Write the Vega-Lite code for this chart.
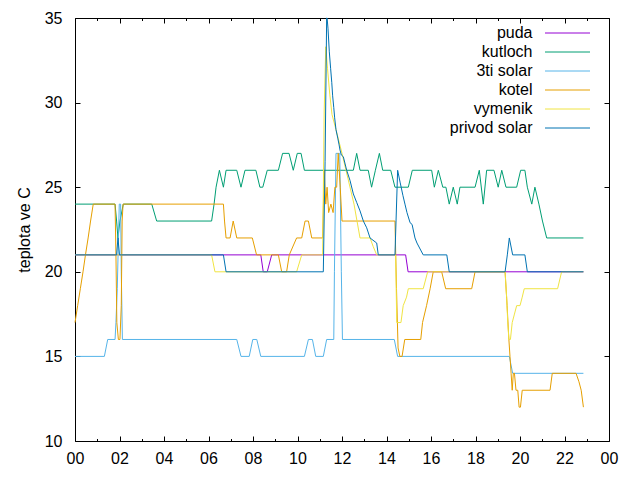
{
  "$schema": "https://vega.github.io/schema/vega-lite/v6.json",
  "autosize": "none",
  "width": 534,
  "height": 423,
  "padding": {"left": 75, "top": 18, "right": 31, "bottom": 39},
  "background": "white",
  "config": {
    "view": {"stroke": "black", "strokeWidth": 1},
    "font": "Liberation Sans",
    "axis": {"grid": false, "domain": false, "tickColor": "black", "labelColor": "black", "labelFont": "Liberation Sans", "labelFontSize": 16, "titleFont": "Liberation Sans", "titleFontSize": 16, "titleFontWeight": "normal", "titleColor": "black", "labelFlush": false},
    "legend": {"labelFont": "Liberation Sans", "labelFontSize": 16, "labelColor": "black"}
  },
  "data": {"values": [
    {"s":"puda","h":0,"t":21},{"s":"puda","h":8.35,"t":21},{"s":"puda","h":8.46,"t":20},{"s":"puda","h":8.64,"t":20},{"s":"puda","h":8.84,"t":21},{"s":"puda","h":14.86,"t":21},{"s":"puda","h":14.97,"t":20},{"s":"puda","h":22.85,"t":20},

    {"s":"kutloch","h":0,"t":24},{"s":"kutloch","h":1.8,"t":24},{"s":"kutloch","h":1.87,"t":23},{"s":"kutloch","h":1.93,"t":22},{"s":"kutloch","h":2.02,"t":23},{"s":"kutloch","h":2.17,"t":24},{"s":"kutloch","h":3.45,"t":24},{"s":"kutloch","h":3.67,"t":23},{"s":"kutloch","h":6.14,"t":23},{"s":"kutloch","h":6.25,"t":24},{"s":"kutloch","h":6.34,"t":25},{"s":"kutloch","h":6.49,"t":26},{"s":"kutloch","h":6.67,"t":25},{"s":"kutloch","h":6.79,"t":26},{"s":"kutloch","h":7.27,"t":26},{"s":"kutloch","h":7.46,"t":25},{"s":"kutloch","h":7.64,"t":26},{"s":"kutloch","h":8.13,"t":26},{"s":"kutloch","h":8.31,"t":25},{"s":"kutloch","h":8.44,"t":25},{"s":"kutloch","h":8.64,"t":26},{"s":"kutloch","h":9.14,"t":26},{"s":"kutloch","h":9.33,"t":27},{"s":"kutloch","h":9.62,"t":27},{"s":"kutloch","h":9.81,"t":26},{"s":"kutloch","h":9.99,"t":27},{"s":"kutloch","h":10.16,"t":27},{"s":"kutloch","h":10.31,"t":26},{"s":"kutloch","h":12.51,"t":26},{"s":"kutloch","h":12.66,"t":27},{"s":"kutloch","h":12.81,"t":26},{"s":"kutloch","h":13.18,"t":26},{"s":"kutloch","h":13.33,"t":25},{"s":"kutloch","h":13.5,"t":26},{"s":"kutloch","h":13.68,"t":27},{"s":"kutloch","h":13.83,"t":26},{"s":"kutloch","h":14.19,"t":26},{"s":"kutloch","h":14.38,"t":25},{"s":"kutloch","h":14.98,"t":25},{"s":"kutloch","h":15.16,"t":26},{"s":"kutloch","h":16.03,"t":26},{"s":"kutloch","h":16.15,"t":25},{"s":"kutloch","h":16.33,"t":26},{"s":"kutloch","h":16.53,"t":25},{"s":"kutloch","h":16.67,"t":25},{"s":"kutloch","h":16.82,"t":24},{"s":"kutloch","h":17.0,"t":25},{"s":"kutloch","h":17.18,"t":24},{"s":"kutloch","h":17.3,"t":25},{"s":"kutloch","h":17.98,"t":25},{"s":"kutloch","h":18.17,"t":26},{"s":"kutloch","h":18.35,"t":24},{"s":"kutloch","h":18.5,"t":26},{"s":"kutloch","h":18.83,"t":26},{"s":"kutloch","h":19.02,"t":25},{"s":"kutloch","h":19.18,"t":26},{"s":"kutloch","h":19.37,"t":25},{"s":"kutloch","h":19.85,"t":25},{"s":"kutloch","h":20.03,"t":26},{"s":"kutloch","h":20.22,"t":26},{"s":"kutloch","h":20.33,"t":25},{"s":"kutloch","h":20.53,"t":24},{"s":"kutloch","h":20.67,"t":25},{"s":"kutloch","h":20.85,"t":24},{"s":"kutloch","h":21.01,"t":23},{"s":"kutloch","h":21.2,"t":22},{"s":"kutloch","h":22.85,"t":22},

    {"s":"3ti solar","h":0,"t":15},{"s":"3ti solar","h":1.32,"t":15},{"s":"3ti solar","h":1.47,"t":16},{"s":"3ti solar","h":1.8,"t":16},{"s":"3ti solar","h":1.84,"t":17},{"s":"3ti solar","h":1.9,"t":19},{"s":"3ti solar","h":1.99,"t":24},{"s":"3ti solar","h":2.05,"t":24},{"s":"3ti solar","h":2.08,"t":20},{"s":"3ti solar","h":2.13,"t":16},{"s":"3ti solar","h":7.27,"t":16},{"s":"3ti solar","h":7.46,"t":15},{"s":"3ti solar","h":7.83,"t":15},{"s":"3ti solar","h":7.99,"t":16},{"s":"3ti solar","h":8.17,"t":16},{"s":"3ti solar","h":8.35,"t":15},{"s":"3ti solar","h":10.31,"t":15},{"s":"3ti solar","h":10.49,"t":16},{"s":"3ti solar","h":10.67,"t":16},{"s":"3ti solar","h":10.82,"t":15},{"s":"3ti solar","h":11.16,"t":15},{"s":"3ti solar","h":11.31,"t":16},{"s":"3ti solar","h":11.63,"t":16},{"s":"3ti solar","h":11.66,"t":20},{"s":"3ti solar","h":11.73,"t":27},{"s":"3ti solar","h":11.9,"t":27},{"s":"3ti solar","h":11.97,"t":20},{"s":"3ti solar","h":12.02,"t":16},{"s":"3ti solar","h":14.35,"t":16},{"s":"3ti solar","h":14.5,"t":15},{"s":"3ti solar","h":19.52,"t":15},{"s":"3ti solar","h":19.67,"t":14},{"s":"3ti solar","h":22.85,"t":14},

    {"s":"kotel","h":0,"t":17},{"s":"kotel","h":0.12,"t":18},{"s":"kotel","h":0.24,"t":19},{"s":"kotel","h":0.36,"t":20},{"s":"kotel","h":0.47,"t":21},{"s":"kotel","h":0.59,"t":22},{"s":"kotel","h":0.7,"t":23},{"s":"kotel","h":0.82,"t":24},{"s":"kotel","h":1.8,"t":24},{"s":"kotel","h":1.84,"t":21},{"s":"kotel","h":1.88,"t":17},{"s":"kotel","h":1.95,"t":16},{"s":"kotel","h":2.02,"t":16},{"s":"kotel","h":2.08,"t":18},{"s":"kotel","h":2.12,"t":23},{"s":"kotel","h":2.16,"t":24},{"s":"kotel","h":6.67,"t":24},{"s":"kotel","h":6.72,"t":23},{"s":"kotel","h":6.79,"t":22},{"s":"kotel","h":6.97,"t":22},{"s":"kotel","h":7.11,"t":23},{"s":"kotel","h":7.27,"t":22},{"s":"kotel","h":7.97,"t":22},{"s":"kotel","h":8.16,"t":21},{"s":"kotel","h":9.14,"t":21},{"s":"kotel","h":9.29,"t":20},{"s":"kotel","h":9.51,"t":20},{"s":"kotel","h":9.63,"t":21},{"s":"kotel","h":9.96,"t":22},{"s":"kotel","h":10.19,"t":22},{"s":"kotel","h":10.34,"t":23},{"s":"kotel","h":10.49,"t":23},{"s":"kotel","h":10.64,"t":22},{"s":"kotel","h":11.13,"t":22},{"s":"kotel","h":11.2,"t":26},{"s":"kotel","h":11.27,"t":24},{"s":"kotel","h":11.33,"t":25},{"s":"kotel","h":11.4,"t":23.5},{"s":"kotel","h":11.5,"t":24},{"s":"kotel","h":11.6,"t":23.5},{"s":"kotel","h":11.68,"t":25},{"s":"kotel","h":11.76,"t":25},{"s":"kotel","h":11.83,"t":27},{"s":"kotel","h":11.92,"t":25},{"s":"kotel","h":12.0,"t":23},{"s":"kotel","h":14.38,"t":23},{"s":"kotel","h":14.45,"t":19},{"s":"kotel","h":14.52,"t":15.5},{"s":"kotel","h":14.6,"t":15},{"s":"kotel","h":14.7,"t":15},{"s":"kotel","h":14.82,"t":16},{"s":"kotel","h":15.54,"t":16},{"s":"kotel","h":15.62,"t":17},{"s":"kotel","h":15.8,"t":18},{"s":"kotel","h":15.96,"t":19},{"s":"kotel","h":16.1,"t":20},{"s":"kotel","h":16.48,"t":20},{"s":"kotel","h":16.66,"t":19},{"s":"kotel","h":17.83,"t":19},{"s":"kotel","h":17.98,"t":20},{"s":"kotel","h":19.33,"t":20},{"s":"kotel","h":19.42,"t":18},{"s":"kotel","h":19.5,"t":16},{"s":"kotel","h":19.55,"t":15},{"s":"kotel","h":19.6,"t":14},{"s":"kotel","h":19.65,"t":13},{"s":"kotel","h":19.7,"t":14},{"s":"kotel","h":19.75,"t":14},{"s":"kotel","h":19.82,"t":13},{"s":"kotel","h":19.9,"t":13},{"s":"kotel","h":19.96,"t":12},{"s":"kotel","h":20.02,"t":12},{"s":"kotel","h":20.1,"t":13},{"s":"kotel","h":21.35,"t":13},{"s":"kotel","h":21.45,"t":14},{"s":"kotel","h":22.52,"t":14},{"s":"kotel","h":22.65,"t":13.5},{"s":"kotel","h":22.75,"t":13},{"s":"kotel","h":22.85,"t":12},

    {"s":"vymenik","h":0,"t":21},{"s":"vymenik","h":6.14,"t":21},{"s":"vymenik","h":6.29,"t":20},{"s":"vymenik","h":9.96,"t":20},{"s":"vymenik","h":10.19,"t":21},{"s":"vymenik","h":11.13,"t":21},{"s":"vymenik","h":11.2,"t":29.5},{"s":"vymenik","h":11.27,"t":33.3},{"s":"vymenik","h":11.35,"t":32},{"s":"vymenik","h":11.45,"t":30.5},{"s":"vymenik","h":11.55,"t":29.3},{"s":"vymenik","h":11.73,"t":28.4},{"s":"vymenik","h":12.0,"t":27},{"s":"vymenik","h":12.27,"t":25.5},{"s":"vymenik","h":12.54,"t":24},{"s":"vymenik","h":12.81,"t":22},{"s":"vymenik","h":13.26,"t":22},{"s":"vymenik","h":13.4,"t":21.5},{"s":"vymenik","h":13.56,"t":21},{"s":"vymenik","h":14.41,"t":21},{"s":"vymenik","h":14.46,"t":17},{"s":"vymenik","h":14.65,"t":17},{"s":"vymenik","h":14.75,"t":18},{"s":"vymenik","h":14.9,"t":18.5},{"s":"vymenik","h":14.98,"t":19},{"s":"vymenik","h":15.65,"t":19},{"s":"vymenik","h":15.85,"t":20},{"s":"vymenik","h":19.33,"t":20},{"s":"vymenik","h":19.4,"t":18.5},{"s":"vymenik","h":19.45,"t":17},{"s":"vymenik","h":19.5,"t":16},{"s":"vymenik","h":19.57,"t":16},{"s":"vymenik","h":19.65,"t":17},{"s":"vymenik","h":19.75,"t":17.5},{"s":"vymenik","h":19.85,"t":18},{"s":"vymenik","h":20.0,"t":18},{"s":"vymenik","h":20.1,"t":18.5},{"s":"vymenik","h":20.19,"t":19},{"s":"vymenik","h":21.69,"t":19},{"s":"vymenik","h":21.87,"t":20},{"s":"vymenik","h":22.85,"t":20},

    {"s":"privod solar","h":0,"t":21},{"s":"privod solar","h":1.87,"t":21},{"s":"privod solar","h":1.93,"t":22},{"s":"privod solar","h":2.0,"t":21},{"s":"privod solar","h":6.67,"t":21},{"s":"privod solar","h":6.79,"t":20},{"s":"privod solar","h":11.16,"t":20},{"s":"privod solar","h":11.24,"t":26.5},{"s":"privod solar","h":11.31,"t":35},{"s":"privod solar","h":11.33,"t":35},{"s":"privod solar","h":11.37,"t":34.4},{"s":"privod solar","h":11.43,"t":33},{"s":"privod solar","h":11.49,"t":32},{"s":"privod solar","h":11.54,"t":31.2},{"s":"privod solar","h":11.58,"t":30.4},{"s":"privod solar","h":11.63,"t":29.7},{"s":"privod solar","h":11.67,"t":29.1},{"s":"privod solar","h":11.73,"t":28.4},{"s":"privod solar","h":11.81,"t":27.9},{"s":"privod solar","h":11.87,"t":27.5},{"s":"privod solar","h":11.91,"t":27.2},{"s":"privod solar","h":11.97,"t":26.9},{"s":"privod solar","h":12.06,"t":26.8},{"s":"privod solar","h":12.21,"t":26},{"s":"privod solar","h":12.36,"t":25.4},{"s":"privod solar","h":12.51,"t":24.6},{"s":"privod solar","h":12.66,"t":24.1},{"s":"privod solar","h":12.81,"t":23.6},{"s":"privod solar","h":12.96,"t":23},{"s":"privod solar","h":13.11,"t":22.6},{"s":"privod solar","h":13.26,"t":22},{"s":"privod solar","h":13.56,"t":21.7},{"s":"privod solar","h":13.63,"t":21},{"s":"privod solar","h":14.38,"t":21},{"s":"privod solar","h":14.5,"t":26},{"s":"privod solar","h":14.61,"t":25.3},{"s":"privod solar","h":14.74,"t":24.5},{"s":"privod solar","h":14.83,"t":24},{"s":"privod solar","h":14.92,"t":23.5},{"s":"privod solar","h":15.06,"t":22.9},{"s":"privod solar","h":15.15,"t":22.8},{"s":"privod solar","h":15.28,"t":22},{"s":"privod solar","h":15.37,"t":21.7},{"s":"privod solar","h":15.65,"t":21},{"s":"privod solar","h":16.71,"t":21},{"s":"privod solar","h":16.82,"t":20},{"s":"privod solar","h":19.33,"t":20},{"s":"privod solar","h":19.43,"t":21},{"s":"privod solar","h":19.52,"t":22},{"s":"privod solar","h":19.67,"t":21},{"s":"privod solar","h":20.22,"t":21},{"s":"privod solar","h":20.33,"t":20},{"s":"privod solar","h":22.85,"t":20}
  ]},
  "resolve": {"axis": {"x": "independent", "y": "independent"}},
  "layer": [
    {
      "mark": {"type": "line", "strokeWidth": 1, "interpolate": "linear"},
      "encoding": {
        "x": {"field": "h", "type": "quantitative", "scale": {"domain": [0, 24], "nice": false, "zero": false},
          "axis": {"orient": "bottom", "title": null, "values": [0,2,4,6,8,10,12,14,16,18,20,22,24], "tickSize": -5, "labelPadding": 14,
            "labelExpr": "(datum.value % 24 < 10 ? '0' : '') + (datum.value % 24)"}},
        "y": {"field": "t", "type": "quantitative", "scale": {"domain": [10, 35], "nice": false, "zero": false},
          "axis": {"orient": "left", "title": "teplota ve C", "values": [10,15,20,25,30,35], "tickSize": -5, "labelPadding": 18, "titlePadding": 12}},
        "color": {"field": "s", "type": "nominal",
          "scale": {"domain": ["puda", "kutloch", "3ti solar", "kotel", "vymenik", "privod solar"],
                    "range": ["#9400d3", "#009e73", "#56b4e9", "#e69f00", "#f0e442", "#0072b2"]},
          "legend": {"orient": "none", "legendX": 484.5, "legendY": 7, "title": null, "symbolType": "M-3,0H3", "symbolSize": 225, "symbolStrokeWidth": 1, "symbolFillColor": "transparent", "labelAlign": "right", "labelOffset": -43, "rowPadding": 3, "padding": 0}}
      }
    },
    {
      "transform": [{"filter": "false"}],
      "mark": {"type": "point", "opacity": 0},
      "encoding": {
        "x": {"field": "h", "type": "quantitative", "axis": {"orient": "bottom", "title": null, "values": [1,3,5,7,9,11,13,15,17,19,21,23], "tickSize": -2.5, "labels": false}},
        "y": {"field": "t", "type": "quantitative", "axis": {"orient": "right", "title": null, "values": [10,15,20,25,30,35], "tickSize": -5, "labels": false}}
      }
    },
    {
      "transform": [{"filter": "false"}],
      "mark": {"type": "point", "opacity": 0},
      "encoding": {
        "x": {"field": "h", "type": "quantitative", "axis": {"orient": "top", "title": null, "values": [0,2,4,6,8,10,12,14,16,18,20,22,24], "tickSize": -5, "labels": false}},
        "y": {"field": "t", "type": "quantitative", "axis": null}
      }
    },
    {
      "transform": [{"filter": "false"}],
      "mark": {"type": "point", "opacity": 0},
      "encoding": {
        "x": {"field": "h", "type": "quantitative", "axis": {"orient": "top", "title": null, "values": [1,3,5,7,9,11,13,15,17,19,21,23], "tickSize": -2.5, "labels": false}},
        "y": {"field": "t", "type": "quantitative", "axis": null}
      }
    }
  ]
}
